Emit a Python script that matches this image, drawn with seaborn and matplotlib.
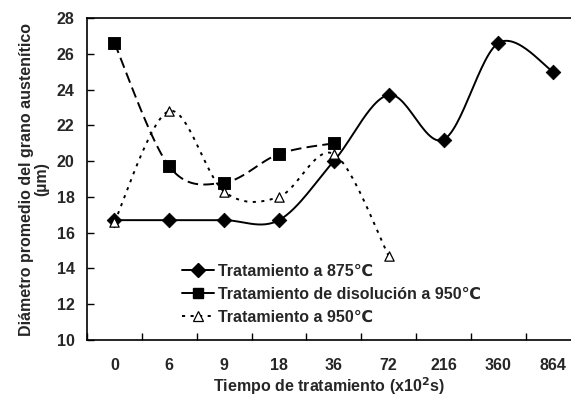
import numpy as np
import pandas as pd
import matplotlib
matplotlib.use("Agg")
import matplotlib.pyplot as plt
import seaborn as sns
from matplotlib.lines import Line2D
from matplotlib.ticker import FixedLocator

categories = ["0", "6", "9", "18", "36", "72", "216", "360", "864"]
t875 = [16.7, 16.7, 16.7, 16.7, 20.0, 23.7, 21.2, 26.6, 25.0]
t_disol950 = [26.6, 19.7, 18.8, 20.4, 21.0]
t950 = [16.6, 22.8, 18.3, 18.0, 20.4, 14.7]

labels = ["Tratamiento a 875\u2103",
          "Tratamiento de disoluci\u00f3n a 950\u2103",
          "Tratamiento a 950\u2103"]

sns.set_theme(style="white")
plt.rcParams['font.family'] = ['Liberation Sans', 'DejaVu Sans']
plt.rcParams['font.weight'] = 'bold'

FS = 11.5


def smooth(vals, n=30):
    x = np.arange(len(vals), dtype=float)
    y = np.asarray(vals, dtype=float)
    P = np.column_stack([x, y])
    out = [P[0]]
    for i in range(len(P) - 1):
        p0 = P[i - 1] if i > 0 else P[i]
        p1 = P[i]
        p2 = P[i + 1]
        p3 = P[i + 2] if i + 2 < len(P) else P[i + 1]
        c1 = p1 + (p2 - p0) / 6.0
        c2 = p2 - (p3 - p1) / 6.0
        t = np.linspace(0, 1, n)[1:, None]
        seg = ((1 - t) ** 3) * p1 + 3 * ((1 - t) ** 2) * t * c1 + 3 * (1 - t) * t ** 2 * c2 + t ** 3 * p2
        out.extend(seg)
    out = np.array(out)
    return out[:, 0], out[:, 1]


fig = plt.figure(figsize=(5.71, 3.97), dpi=100)
ax = fig.add_axes([87 / 571, 1 - 340 / 397, (571 - 87) / 571, (340 - 18) / 397])

series = [
    (t875, None, dict(marker='D', s=55, color='black', edgecolor='black')),
    (t_disol950, (5.5, 2.7), dict(marker='s', s=65, color='black', edgecolor='black')),
    (t950, (1.6, 2.8), dict(marker='^', s=45, color='white', edgecolor='black', linewidth=0.9)),
]

for vals, dashes, mstyle in series:
    xs, ys = smooth(vals)
    df = pd.DataFrame({"x": xs, "y": ys})
    line_kw = dict(color='black', lw=1.4)
    if dashes is not None:
        line_kw['dashes'] = dashes
    sns.lineplot(data=df, x="x", y="y", sort=False, estimator=None, ax=ax, **line_kw)
    dm = pd.DataFrame({"x": np.arange(len(vals)), "y": vals})
    sns.scatterplot(data=dm, x="x", y="y", ax=ax, zorder=3, **mstyle)

ax.set_xlim(-0.5, (571 - 114) / 54.9)
ax.set_ylim(10, 28)
ax.set_yticks(np.arange(10, 29, 2))
ax.set_xticks(range(len(categories)))
ax.set_xticklabels(categories, fontsize=FS, fontweight='bold')
ax.xaxis.set_minor_locator(FixedLocator(np.arange(-0.5, 8.0, 1.0)))
ax.tick_params(axis='x', which='major', length=0, pad=13)
ax.tick_params(axis='x', which='minor', direction='in', length=5, width=1, color='black', bottom=True)
ax.tick_params(axis='y', direction='in', length=5, width=1, color='black', left=True, pad=9, labelsize=FS)
for lab in ax.get_yticklabels():
    lab.set_fontweight('bold')

for s in ['left', 'bottom', 'top']:
    ax.spines[s].set_color('black')
    ax.spines[s].set_linewidth(1.2)
ax.spines['right'].set_visible(False)

ax.set_xlabel("Tiempo de tratamiento (x10$^\\mathbf{2}$s)", fontsize=FS, fontweight='bold', labelpad=1.5)
ax.set_ylabel("Di\u00e1metro promedio del grano austen\u00edtico\n(\u00b5m)", fontsize=FS, fontweight='bold',
              labelpad=5, linespacing=1.05)

handles = [
    Line2D([], [], color='black', lw=1.4, ls='-', marker='D', markersize=7, markerfacecolor='black'),
    Line2D([], [], color='black', lw=1.4, ls='-', marker='s', markersize=7.5, markerfacecolor='black'),
    Line2D([], [], color='black', lw=1.4, dashes=(1.6, 2.8), marker='^', markersize=7.5,
           markerfacecolor='white', markeredgecolor='black', markeredgewidth=0.9),
]
ax.legend(handles, labels, loc='upper left', bbox_to_anchor=(0.196, 0.236), frameon=False,
          prop={'size': FS, 'weight': 'bold'}, handlelength=2.0, handletextpad=0.25,
          labelspacing=0.5, borderpad=0, borderaxespad=0)

fig.savefig("out.png", dpi=100)
